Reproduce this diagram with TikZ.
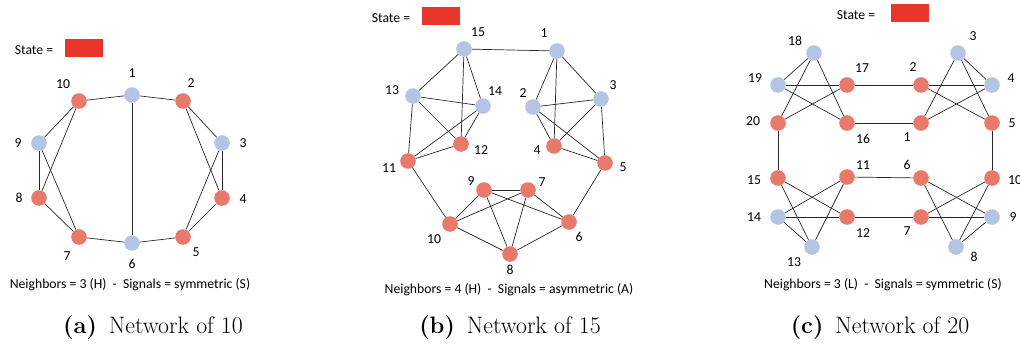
\documentclass[tikz,border=0pt]{standalone}
\usepackage{fontspec}
\newfontfamily\carl{Carlito}
\definecolor{nodeblue}{HTML}{B4C4E4}
\definecolor{nodered}{HTML}{E8796B}
\definecolor{statered}{HTML}{E8362A}
\begin{document}
\begin{tikzpicture}[x=1pt,y=-1pt,
  bn/.style={circle,inner sep=0pt,minimum size=15.6pt,fill=nodeblue},
  rn/.style={circle,inner sep=0pt,minimum size=15.6pt,fill=nodered},
  edge/.style={line width=0.7pt,black!85},
  lbl/.style={font=\carl\fontsize{13.7}{16}\selectfont,inner sep=0pt},
  statebox/.style={fill=statered,inner sep=0pt,minimum width=38pt,minimum height=18pt},
  capt/.style={font=\fontsize{23.8}{28}\selectfont,anchor=base,inner sep=0pt}]
\useasboundingbox (0,0) rectangle (1020,345);

% ---------------- (a) network of 10 ----------------
\node[lbl] (sta) at (34,50) {State =};
\node[statebox] (sra) at (84,48) {};
\node[bn] (a1) at (132,95) {};
\node[rn] (a2) at (183,101) {};
\node[bn] (a3) at (222,143) {};
\node[rn] (a4) at (222,198) {};
\node[rn] (a5) at (183,237) {};
\node[bn] (a6) at (132,243) {};
\node[rn] (a7) at (79,237) {};
\node[rn] (a8) at (39,198) {};
\node[bn] (a9) at (39,143) {};
\node[rn] (a10) at (79,101) {};
\node[lbl] (la1) at (132,73) {1};
\node[lbl] (la2) at (191,83) {2};
\node[lbl] (la3) at (243,143) {3};
\node[lbl] (la4) at (243,199) {4};
\node[lbl] (la5) at (196,252) {5};
\node[lbl] (la6) at (132,264) {6};
\node[lbl] (la7) at (67,256) {7};
\node[lbl] (la8) at (19,198) {8};
\node[lbl] (la9) at (18,143) {9};
\node[lbl] (la10) at (63,84) {10};
\foreach \u/\v in {a10/a1,a1/a2,a1/a6,a10/a9,a10/a8,a9/a8,a9/a7,a8/a7,a7/a6,a6/a5,
                   a2/a3,a2/a4,a3/a4,a3/a5,a4/a5}
  \draw[edge] (\u) -- (\v);
\node[lbl] (ta) at (130,285) {Neighbors = 3 (H)\ \ -\ \ Signals = symmetric (S)};
\node[capt] (ca) at (153,333) {\textbf{(a)}\enspace Network of 10};

% ---------------- (b) network of 15 ----------------
\node[lbl] (stb) at (391,18) {State =};
\node[statebox] (srb) at (440.5,16.5) {};
\node[bn] (b15) at (464,49) {};
\node[bn] (b1) at (557,51) {};
\node[bn] (b13) at (413,96) {};
\node[bn] (b14) at (483,106) {};
\node[bn] (b2) at (533,107) {};
\node[bn] (b3) at (601,99) {};
\node[rn] (b12) at (461,144) {};
\node[rn] (b4) at (554,146) {};
\node[rn] (b11) at (408,161) {};
\node[rn] (b5) at (605,163) {};
\node[rn] (b9) at (484,190) {};
\node[rn] (b7) at (528,190) {};
\node[rn] (b10) at (450,224) {};
\node[rn] (b6) at (569,222) {};
\node[rn] (b8) at (510,254) {};
\node[lbl] (lb15) at (478,32) {15};
\node[lbl] (lb1) at (544,33) {1};
\node[lbl] (lb13) at (392,90) {13};
\node[lbl] (lb14) at (495,91) {14};
\node[lbl] (lb2) at (523,93) {2};
\node[lbl] (lb3) at (613,85) {3};
\node[lbl] (lb12) at (481,150) {12};
\node[lbl] (lb4) at (537,150) {4};
\node[lbl] (lb11) at (389,168) {11};
\node[lbl] (lb5) at (623,167) {5};
\node[lbl] (lb9) at (471,181) {9};
\node[lbl] (lb7) at (542,182) {7};
\node[lbl] (lb10) at (434,239) {10};
\node[lbl] (lb6) at (579,237) {6};
\node[lbl] (lb8) at (510,270) {8};
\foreach \u/\v in {b15/b1,b15/b13,b15/b12,b15/b14,b13/b14,b13/b12,b13/b11,b14/b11,b14/b12,b12/b11,
                   b11/b10,b1/b2,b1/b4,b1/b3,b2/b3,b2/b4,b2/b5,b3/b4,b3/b5,b4/b5,b5/b6,
                   b9/b7,b9/b10,b9/b6,b9/b8,b7/b10,b7/b6,b7/b8,b10/b8,b6/b8}
  \draw[edge] (\u) -- (\v);
\node[lbl] (tb) at (509,290) {Neighbors = 4 (H)\ \ -\ \ Signals = asymmetric (A)};
\node[capt] (cb) at (510,333) {\textbf{(b)}\enspace Network of 15};

% ---------------- (c) network of 20 ----------------
\node[lbl] (stc) at (856,15) {State =};
\node[statebox] (src) at (909.5,13.5) {};
\node[bn] (c18) at (814,53) {};
\node[bn] (c3) at (958,53) {};
\node[bn] (c19) at (778,85) {};
\node[rn] (c17) at (847,85) {};
\node[rn] (c2) at (921,85) {};
\node[bn] (c4) at (992,85) {};
\node[rn] (c20) at (778,123) {};
\node[rn] (c16) at (847,123) {};
\node[rn] (c1) at (921,123) {};
\node[rn] (c5) at (992,123) {};
\node[rn] (c15) at (778,178) {};
\node[rn] (c11) at (847,177) {};
\node[rn] (c6) at (921,178) {};
\node[rn] (c10) at (992,178) {};
\node[bn] (c14) at (778,217) {};
\node[rn] (c12) at (847,217) {};
\node[rn] (c7) at (921,217) {};
\node[bn] (c9) at (992,217) {};
\node[bn] (c13) at (812,247) {};
\node[bn] (c8) at (956,247) {};
\node[lbl] (lc18) at (795,41) {18};
\node[lbl] (lc3) at (973,36) {3};
\node[lbl] (lc19) at (755,78) {19};
\node[lbl] (lc17) at (862,68) {17};
\node[lbl] (lc2) at (913,67) {2};
\node[lbl] (lc4) at (1011,78) {4};
\node[lbl] (lc20) at (753,121) {20};
\node[lbl] (lc16) at (863,139) {16};
\node[lbl] (lc1) at (907,137) {1};
\node[lbl] (lc5) at (1012,123) {5};
\node[lbl] (lc15) at (754,180) {15};
\node[lbl] (lc11) at (863,165) {11};
\node[lbl] (lc6) at (907,165) {6};
\node[lbl,anchor=west] (lc10) at (1008,180) {10};
\node[lbl] (lc14) at (754,217) {14};
\node[lbl] (lc12) at (863,233) {12};
\node[lbl] (lc7) at (907,231) {7};
\node[lbl] (lc9) at (1013,217) {9};
\node[lbl] (lc13) at (794,262) {13};
\node[lbl] (lc8) at (974,257) {8};
\foreach \u/\v in {c18/c19,c18/c20,c18/c16,c19/c17,c19/c16,c20/c17,c20/c15,c17/c2,c16/c1,
                   c2/c4,c2/c5,c3/c4,c3/c1,c3/c5,c1/c4,c5/c10,
                   c15/c12,c15/c13,c14/c11,c14/c12,c14/c13,c11/c13,c11/c6,c12/c7,
                   c6/c9,c6/c8,c7/c10,c7/c9,c10/c8,c9/c8}
  \draw[edge] (\u) -- (\v);
\node[lbl] (tc) at (883,285) {Neighbors = 3 (L)\ \ -\ \ Signals = symmetric (S)};
\node[capt] (cc) at (880,333) {\textbf{(c)}\enspace Network of 20};
\end{tikzpicture}
\end{document}
